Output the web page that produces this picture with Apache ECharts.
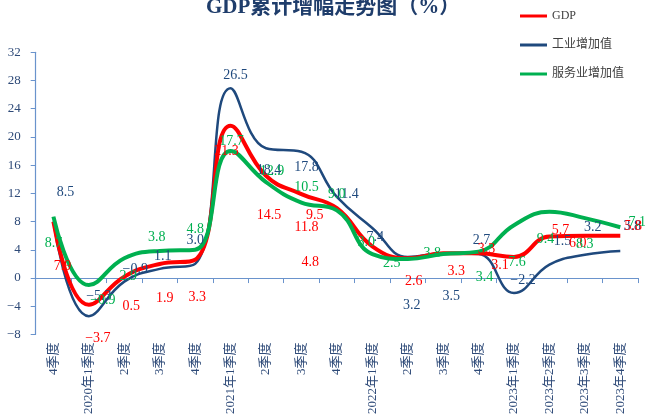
<!DOCTYPE html>
<html><head><meta charset="utf-8">
<script src="https://cdn.jsdelivr.net/npm/echarts@6/dist/echarts.min.js"></script>
<style>html,body{margin:0;padding:0;background:#fff}#c{width:645px;height:417px}</style>
</head><body><div id="c"></div>
<script>
const categories = ['4季度','2020年1季度','2季度','3季度','4季度','2021年1季度','2季度','3季度','4季度','2022年1季度','2季度','3季度','4季度','2023年1季度','2023年2季度','2023年3季度','2023年4季度'];
const gdp = [8.0, -3.8, 0.2, 2.0, 2.6, 21.6, 14.5, 11.9, 9.9, 4.5, 2.8, 3.5, 3.5, 3.0, 5.9, 6.0, 6.0];
const industry = [8.0, -5.4, -0.5, 1.3, 2.0, 26.9, 18.4, 17.9, 11.5, 7.1, 3.0, 3.5, 3.4, -2.1, 1.9, 3.3, 3.85];
const services = [8.7, -1.0, 2.8, 3.85, 4.0, 18.0, 13.6, 10.7, 9.6, 3.4, 2.7, 3.4, 3.75, 7.5, 9.4, 8.5, 7.2];
const gdpLabels = ['7.9','−3.7','0.5','1.9','3.3','21.3','14.5','11.8','9.5','4.8','2.6','3.3','3.3','3.1','5.7','6.0','5.8'];
const industryLabels = ['8.5','−5.3','−0.9','1.1','3.0','26.5','18.4','17.8','11.4','7.4','3.2','3.5','2.7','−2.2','1.5','3.2','3.8'];
const servicesLabels = ['8.7','−0.9','2.9','3.8','4.8','17.7','12.9','10.5','9.0','3.0','2.5','3.8','3.4','7.6','9.4','8.3','7.1'];
const yTicks = {min: -8, max: 32, interval: 4};

// label offsets (px) relative to each point
const gdpOff = [[9,45],[9,33],[7,30],[5,34],[2,38],[-4,26],[3,40],[5,33],[-22,7],[-62,16],[6,23],[13,18],[8,-4],[-14,8],[11,-6],[-7,8],[13,-9]];
const indOff = [[12,-29],[10,-20],[11,-12],[3,-13],[0,-24],[5,-13],[3,22],[5,16],[10,-3],[3,9],[4,48],[8,43],[3,-14],[9,-13],[13,-23],[8,-27],[12,-25]];
const srvOff = [[0,27],[14,15],[4,18],[-3,-14],[0,-21],[1,-10],[6,-11],[5,-15],[0,-16],[-6,-12],[-16,4],[-11,-1],[6,26],[3,37],[-4,28],[0,26],[17,-5]];

const FONT = "'Liberation Serif','Noto Sans CJK SC',serif";
const axisBlue = '#2E4A78';

function mk(name, vals, labels, offs, color, width) {
  return {
    name: name, type: 'line', smooth: 0.45, color: color,
    symbol: 'circle', symbolSize: 0,
    lineStyle: {width: width, color: color},
    itemStyle: {color: color},
    data: vals.map((v, i) => ({
      value: v,
      label: {offset: offs[i], formatter: labels[i]}
    })),
    label: {
      show: true, position: 'inside', align: 'center', verticalAlign: 'middle',
      color: color, fontSize: 14, fontFamily: FONT
    },
    emphasis: {disabled: true},
    animation: false
  };
}

const chart = echarts.init(document.getElementById('c'));
chart.setOption({
  backgroundColor: '#fff',
  animation: false,
  title: {
    text: 'GDP累计增幅走势图（%）', left: 201, top: -8,
    textStyle: {fontSize: 21, fontWeight: 'bold', color: '#1F3D6B', fontFamily: FONT}
  },
  legend: {
    orient: 'vertical', left: 520, top: 8, itemGap: 13, padding: 0,
    icon: 'rect', itemWidth: 27, itemHeight: 3, itemTextGap: 3,
    data: ['GDP', '工业增加值', '服务业增加值'],
    textStyle: {fontSize: 12, color: '#404040', fontFamily: FONT, lineHeight: 16}
  },
  grid: {left: 35.7, right: 7, top: 52.3, bottom: 82.3},
  xAxis: {
    type: 'category', data: categories, boundaryGap: true,
    axisLine: {lineStyle: {color: '#6A93CC', width: 1.2}},
    axisTick: {show: true, interval: 0, length: 5, lineStyle: {color: '#6A93CC'}},
    axisLabel: {interval: 0, rotate: 90, margin: 8, fontSize: 13, color: axisBlue, fontFamily: FONT}
  },
  yAxis: {
    type: 'value', min: yTicks.min, max: yTicks.max, interval: yTicks.interval,
    splitLine: {show: false},
    axisLine: {show: true, lineStyle: {color: '#6A93CC', width: 1.2}},
    axisTick: {show: true, length: 5, inside: false, lineStyle: {color: '#6A93CC'}},
    axisLabel: {margin: 15, fontSize: 13, color: axisBlue, fontFamily: FONT,
      formatter: v => v < 0 ? '−' + Math.abs(v) : String(v)}
  },
  series: [
    mk('工业增加值', industry, industryLabels, indOff, '#1F497D', 2.5),
    mk('GDP', gdp, gdpLabels, gdpOff, '#FF0000', 4),
    mk('服务业增加值', services, servicesLabels, srvOff, '#00B050', 4)
  ]
});
</script></body></html>
